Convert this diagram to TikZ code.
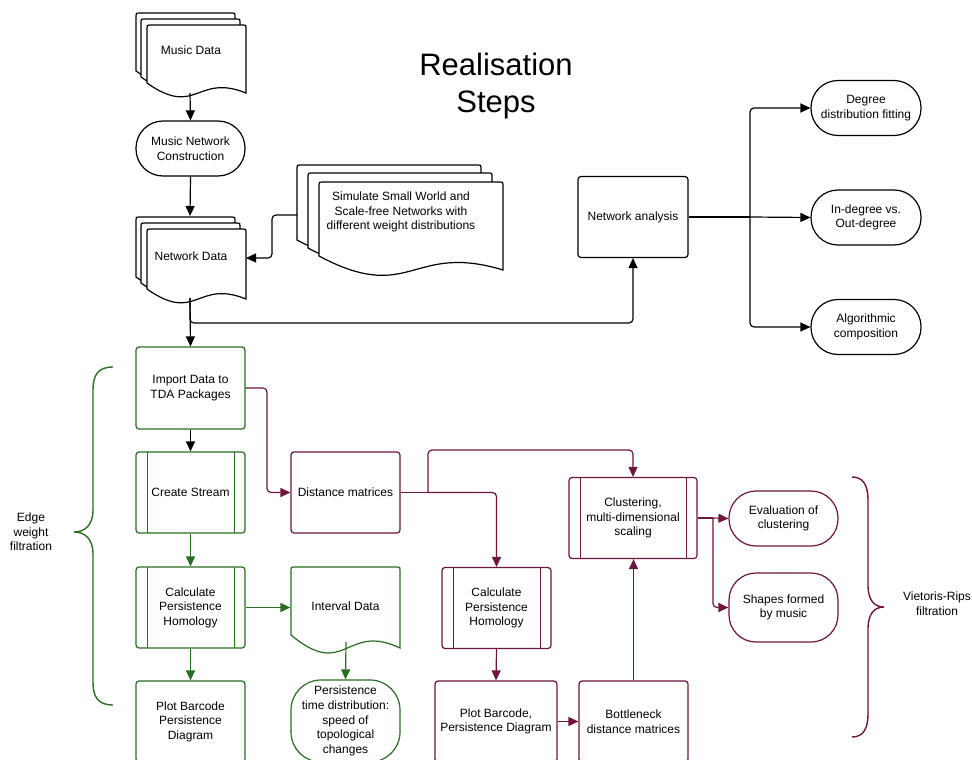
\documentclass[tikz,border=0pt]{standalone}
\usepackage{fontspec}
\setmainfont{Liberation Sans}
\usetikzlibrary{arrows.meta,calc}
\definecolor{tgreen}{RGB}{39,110,33}
\definecolor{tpurp}{RGB}{110,21,61}
\newcommand\docshape[6]{%
 \pgfmathsetmacro\docL{#2}\pgfmathsetmacro\docT{#3}\pgfmathsetmacro\docR{#4}\pgfmathsetmacro\docB{#5}%
 \pgfmathsetmacro\docM{(#2+#4)/2}%
 \pgfmathsetmacro\docLo{#5-#6}\pgfmathsetmacro\docCa{#5-2*#6}\pgfmathsetmacro\docCb{#5+2.5*#6}%
 \draw[#1] (\docL,\docLo) -- (\docL,\docT+3) .. controls (\docL,\docT) .. (\docL+3,\docT) -- (\docR-3,\docT) .. controls (\docR,\docT) .. (\docR,\docT+3) -- (\docR,\docB) .. controls (\docM,\docCa) and (\docM,\docCb) .. (\docL,\docLo) -- cycle;}
\tikzset{
 base/.style={line width=1.2pt, inner sep=0pt, align=center},
 sz/.style 2 args={minimum width=#1pt, minimum height=#2pt},
 proc/.style={base, draw, rounded corners=3pt, fill=white},
 pred/.style={proc, draw=#1, path picture={\draw[#1,line width=1pt]
   ([xshift=11pt]path picture bounding box.north west) -- ([xshift=11pt]path picture bounding box.south west)
   ([xshift=-11pt]path picture bounding box.north east) -- ([xshift=-11pt]path picture bounding box.south east);}},
 term/.style={base, draw, rounded corners=27pt, fill=white},
 docst/.style={line width=1.2pt, fill=white, draw=#1},
 conn/.style={line width=1.2pt, rounded corners=4pt, -{Triangle[length=10pt,width=9pt]}},
 brace/.style={line width=1.4pt}
}
\begin{document}
\begin{tikzpicture}[x=1pt,y=-1pt,font=\fontsize{12}{14.6}\selectfont]
\useasboundingbox (0,0) rectangle (972,760);

% title
\node[align=center, font=\fontsize{31}{37}\selectfont] (title) at (496,86) {Realisation\\Steps};

% Music Data stack
\docshape{docst=black}{136}{13}{235}{81}{10}
\docshape{docst=black}{141}{19}{240}{87}{10}
\docshape{docst=black}{147}{25}{246}{93}{10}
\node (music) at (191,50) {Music Data};
\coordinate (musicbot) at (190,93);

\node[term, sz={109}{55}] (musicnet) at (190.5,148.5) {Music Network\\Construction};

% Network Data stack
\docshape{docst=black}{136}{217}{235}{287}{10}
\docshape{docst=black}{141}{223}{240}{293}{10}
\docshape{docst=black}{147}{229}{246}{299}{10}
\node (netdata) at (191,256) {Network Data};
\coordinate (netdtop) at (190,216);
\coordinate (netdright) at (246,258);
\coordinate (netdbot) at (190,298);

% Simulate stack
\docshape{docst=black}{297}{165}{481}{254}{14}
\docshape{docst=black}{308}{173}{492}{262}{14}
\docshape{docst=black}{319}{182}{503}{270}{14}
\node[align=center] (simul) at (401,212) {Simulate Small World and\\Scale-free Networks with\\different weight distributions};
\coordinate (simleft) at (297,215);
\coordinate (j0) at (272,215);

\node[proc, sz={110}{81}] (netanal) at (633,217) {Network analysis};
\node[term, sz={110}{55}] (degree) at (866,108) {Degree\\distribution fitting};
\node[term, sz={110}{55}] (indeg) at (866,217.5) {In-degree vs.\\Out-degree};
\node[term, sz={110}{55}] (algo) at (866,327) {Algorithmic\\composition};
\coordinate (j1) at (190,323);
\coordinate (j2) at (750,217);

% green part
\node[proc, draw=tgreen, sz={109}{82}] (import) at (190.5,388) {Import Data to\\TDA Packages};
\node[pred=tgreen, sz={109}{81}] (stream) at (190.5,492.5) {Create Stream};
\node[pred=tgreen, sz={109}{81}] (calcg) at (190.5,607.5) {Calculate\\Persistence\\Homology};
\node[proc, draw=tgreen, sz={109}{81}] (plotg) at (190.5,721.5) {Plot Barcode\\Persistence\\Diagram};
\docshape{docst=tgreen}{291}{567}{400}{648}{13}
\node[base, sz={109}{78}] (interval) at (345.5,606) {Interval Data};
\coordinate (intbot) at (346,642);
\node[term, draw=tgreen, rounded corners=30pt, sz={109}{82}] (persist) at (345.5,721) {Persistence\\time distribution:\\speed of\\topological\\changes};

% purple part
\node[proc, draw=tpurp, sz={109}{81}] (dist) at (345.5,492.5) {Distance matrices};
\node[pred=tpurp, sz={128}{81}] (clust) at (633,518) {Clustering,\\multi-dimensional\\scaling};
\node[pred=tpurp, sz={109}{81}] (calcp) at (496.5,608) {Calculate\\Persistence\\Homology};
\node[proc, draw=tpurp, sz={122}{81}] (plotp) at (496,721.5) {Plot Barcode,\\Persistence Diagram};
\node[proc, draw=tpurp, sz={109}{81}] (bottle) at (633.5,721.5) {Bottleneck\\distance matrices};
\node[term, draw=tpurp, sz={109}{55}] (eval) at (783.5,518.5) {Evaluation of\\clustering};
\node[term, draw=tpurp, sz={109}{69}] (shapes) at (783.5,607.5) {Shapes formed\\by music};
\coordinate (j3) at (267,388);
\coordinate (j4) at (428,492.5);
\coordinate (j5) at (428,450);
\coordinate (j6) at (713,518);

% connectors black
\draw[conn] (musicbot) -- (musicnet.north);
\draw[conn] (musicnet.south) -- (netdtop);
\draw[conn] (simleft) -- (j0) |- (netdright);
\draw[conn] (netdbot) -- (import.north);
\draw[conn] (netdbot) -- (j1) -| (netanal.south);
\draw[line width=1.2pt] (netanal.east) -- (j2);
\draw[conn] (j2) |- (degree.west);
\draw[conn] (j2) -- (indeg.west);
\draw[conn] (j2) |- (algo.west);
\draw[conn] (import.south) -- (stream.north);

% connectors green
\draw[conn, tgreen] (stream.south) -- (calcg.north);
\draw[conn, tgreen] (calcg.south) -- (plotg.north);
\draw[conn, tgreen] (calcg.east) -- (calcg.east -| interval.west);
\draw[conn, tgreen] (intbot) -- (persist.north);

% connectors purple
\draw[conn, tpurp] (import.east) -- (j3) |- (dist.west);
\draw[line width=1.2pt, tpurp] (dist.east) -- (j4);
\draw[conn, tpurp] (j4) -- (j5) -| (clust.north);
\draw[conn, tpurp] (j4) -| (calcp.north);
\draw[conn, tpurp] (calcp.south) -- (plotp.north);
\draw[conn, tpurp] (plotp.east) -- (bottle.west);
\draw[conn, tpurp] (bottle.north) -- (bottle.north |- clust.south);
\draw[line width=1.2pt, tpurp] (clust.east) -- (j6);
\draw[conn, tpurp] (j6) -- (eval.west);
\draw[conn, tpurp] (j6) |- (shapes.west);

% braces
\draw[brace, tgreen] (113,367) .. controls (98,367) and (93,375) .. (93,390) -- (93,510) .. controls (93,525) and (85,532) .. (74,532) .. controls (85,532) and (93,539) .. (93,554) -- (93,682) .. controls (93,697) and (98,705) .. (113,705);
\node[align=center] (edgelbl) at (31,532) {Edge\\weight\\filtration};
\draw[brace, tpurp] (852,477) .. controls (863,477) and (868,485) .. (868,500) -- (868,585) .. controls (868,600) and (874,607) .. (884,607) .. controls (874,607) and (868,614) .. (868,629) -- (868,714) .. controls (868,729) and (863,737) .. (852,737);
\node[align=center] (vrlbl) at (937,604) {Vietoris-Rips\\filtration};
\end{tikzpicture}
\end{document}
